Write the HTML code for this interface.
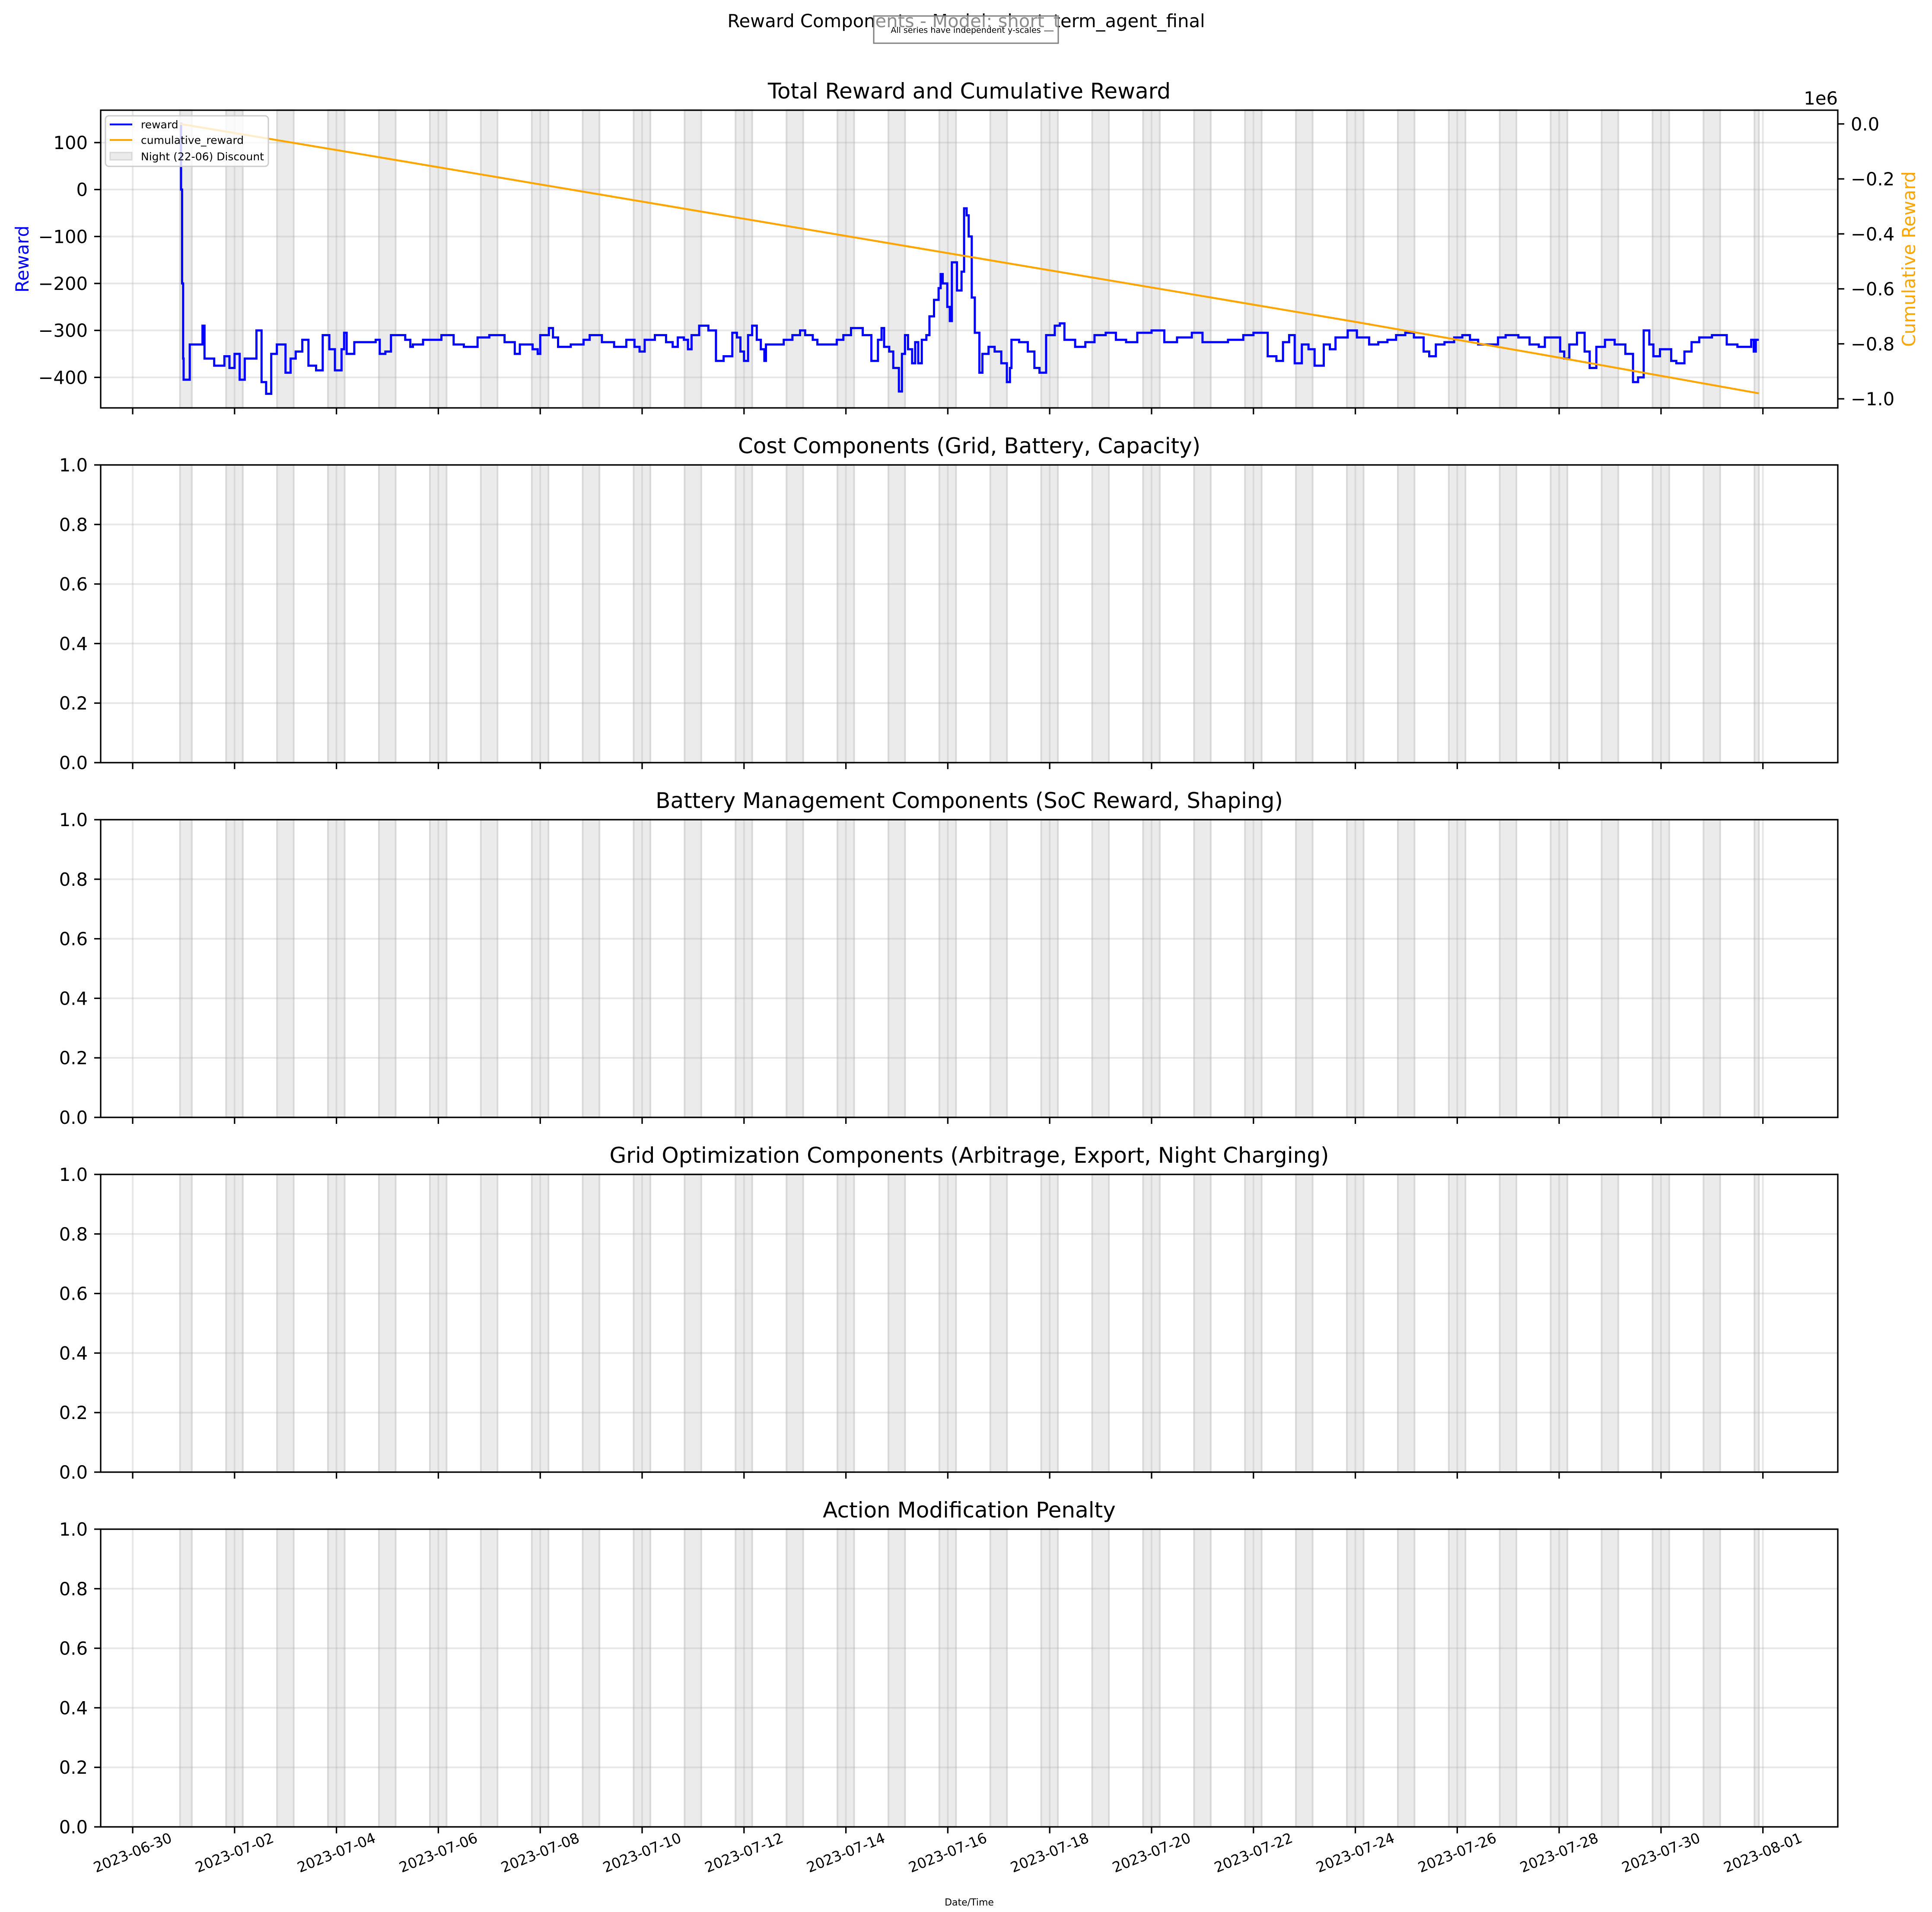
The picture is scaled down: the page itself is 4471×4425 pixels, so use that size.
<!DOCTYPE html>
<html><head><meta charset="utf-8"><title>Reward Components</title>
<style>html,body{margin:0;padding:0;background:#fff}svg{display:block}text{font-family:"DejaVu Sans","Liberation Sans",sans-serif}</style>
</head><body>
<svg id="fig" xmlns="http://www.w3.org/2000/svg" width="4471" height="4425" viewBox="0 0 4471 4425">
<rect width="4471" height="4425" fill="#fff"/>
<text x="2236" y="63" font-size="41.7" text-anchor="middle">Reward Components - Model: short_term_agent_final</text>
<rect x="2022" y="37" width="427" height="63" fill="#fff" fill-opacity="0.55" stroke="#808080" stroke-width="3"/>
<text x="2235" y="76" font-size="19" text-anchor="middle">All series have independent y-scales</text>
<g id="plots"></g>
<text x="2243" y="4410" font-size="22" text-anchor="middle">Date/Time</text>
</svg>
<script>
// ---- data ----
const tickDays = [0,2,4,6,8,10,12,14,16,18,20,22,24,26,28,30,32];
const tickLabels = ["2023-06-30","2023-07-02","2023-07-04","2023-07-06","2023-07-08","2023-07-10","2023-07-12","2023-07-14","2023-07-16","2023-07-18","2023-07-20","2023-07-22","2023-07-24","2023-07-26","2023-07-28","2023-07-30","2023-08-01"];
const rewardTicks = [100,0,-100,-200,-300,-400];
const cumTicks = [0,-0.2,-0.4,-0.6,-0.8,-1.0];
const cumTickLabels = ["0.0","\u22120.2","\u22120.4","\u22120.6","\u22120.8","\u22121.0"];
const unitTicks = [0,0.2,0.4,0.6,0.8,1.0];
const nightDays = [1,2,3,4,5,6,7,8,9,10,11,12,13,14,15,16,17,18,19,20,21,22,23,24,25,26,27,28,29,30,31,32];
const rewardT = [0.93,0.95,0.97,0.99,1.0,1.12,1.37,1.41,1.6,1.8,1.9,2.0,2.1,2.2,2.43,2.53,2.62,2.72,2.83,3.0,3.1,3.2,3.33,3.45,3.6,3.73,3.86,3.97,4.1,4.15,4.2,4.35,4.77,4.85,4.96,5.07,5.35,5.45,5.5,5.7,5.88,6.06,6.3,6.5,6.77,7.0,7.3,7.5,7.6,7.85,7.95,8.0,8.17,8.25,8.35,8.6,8.85,8.97,9.21,9.45,9.69,9.85,9.95,10.05,10.25,10.47,10.6,10.7,10.82,10.9,10.97,11.12,11.3,11.45,11.6,11.77,11.86,11.93,12.0,12.08,12.16,12.25,12.33,12.4,12.43,12.78,12.95,13.1,13.2,13.35,13.44,13.82,13.95,14.1,14.33,14.5,14.63,14.7,14.75,14.85,14.93,15.04,15.1,15.16,15.22,15.3,15.36,15.42,15.49,15.58,15.64,15.73,15.82,15.86,15.9,15.99,16.04,16.08,16.18,16.27,16.32,16.37,16.41,16.47,16.53,16.62,16.68,16.8,16.92,17.05,17.16,17.22,17.25,17.4,17.57,17.7,17.8,17.93,18.1,18.2,18.29,18.5,18.7,18.88,19.1,19.3,19.5,19.72,20.0,20.25,20.5,20.79,21.0,21.2,21.5,21.8,22.0,22.28,22.45,22.58,22.7,22.81,22.95,23.08,23.2,23.38,23.5,23.61,23.85,24.03,24.27,24.45,24.63,24.8,24.98,25.15,25.34,25.45,25.58,25.75,25.94,26.1,26.25,26.41,26.7,26.8,26.95,27.2,27.42,27.6,27.72,28.02,28.1,28.2,28.35,28.5,28.6,28.73,28.9,29.09,29.3,29.45,29.55,29.66,29.77,29.85,29.98,30.2,30.3,30.46,30.6,30.75,31.0,31.29,31.5,31.77,31.82,31.86];
const rewardV = [140,0,-200,-360,-405,-330,-290,-360,-375,-355,-380,-350,-405,-360,-300,-410,-435,-350,-330,-390,-360,-345,-320,-375,-385,-310,-340,-385,-340,-305,-350,-325,-320,-350,-345,-310,-320,-335,-330,-320,-320,-310,-330,-335,-315,-310,-325,-350,-330,-340,-350,-310,-295,-315,-335,-330,-320,-310,-325,-335,-320,-335,-345,-320,-310,-325,-335,-315,-320,-340,-310,-290,-300,-365,-355,-305,-315,-345,-365,-310,-290,-320,-340,-365,-330,-320,-310,-300,-310,-320,-330,-320,-310,-295,-310,-365,-320,-295,-335,-345,-380,-430,-350,-310,-340,-370,-325,-370,-320,-310,-270,-235,-210,-180,-200,-250,-280,-155,-215,-175,-40,-55,-100,-230,-305,-390,-350,-335,-345,-370,-410,-380,-320,-325,-345,-380,-390,-310,-290,-285,-320,-335,-325,-310,-305,-320,-325,-305,-300,-325,-315,-305,-325,-325,-320,-310,-305,-355,-365,-325,-310,-370,-330,-340,-375,-330,-340,-315,-300,-315,-330,-325,-320,-310,-305,-315,-345,-355,-330,-325,-315,-310,-320,-330,-330,-315,-310,-315,-330,-335,-315,-345,-360,-330,-305,-345,-380,-335,-320,-330,-350,-410,-400,-300,-330,-355,-340,-365,-370,-345,-325,-315,-310,-330,-335,-320,-345,-320];
const rewardEnd = 31.92;
const cumT = [0.93,4,8,12,16,20,24,28,31.92];
const cumV = [0,-0.095,-0.22,-0.345,-0.47,-0.595,-0.72,-0.85,-0.98];
const panelTitles = ["Total Reward and Cumulative Reward","Cost Components (Grid, Battery, Capacity)","Battery Management Components (SoC Reward, Shaping)","Grid Optimization Components (Arbitrage, Export, Night Charging)","Action Modification Penalty"];

// ---- layout ----
const NS = "http://www.w3.org/2000/svg";
const L = 233, R = 4253, H = 689;
const tops = [255,1076,1897,2718,3539];
const xMin = -0.628, xMax = 33.47;
const X = d => L + (d - xMin) / (xMax - xMin) * (R - L);
const root = document.getElementById('plots');
function mk(tag, attrs, parent) {
  const e = document.createElementNS(NS, tag);
  for (const k in attrs) e.setAttribute(k, attrs[k]);
  (parent || root).appendChild(e);
  return e;
}

tops.forEach((top, pi) => {
  const bot = top + H;
  const g = mk('g', {});
  
  
  let Y, yt, ylab;
  if (pi === 0) {
    const yMax = 169, yMin = -465;
    Y = v => top + (yMax - v) / (yMax - yMin) * H;
    yt = rewardTicks; ylab = rewardTicks.map(v => v < 0 ? '\u2212' + Math.abs(v) : '' + v);
  } else {
    Y = v => top + (1 - v) * H;
    yt = unitTicks; ylab = unitTicks.map(v => v.toFixed(1));
  }
  nightDays.forEach(d => {
    const s = Math.max(d - 0.165, 0.93), e = Math.min(d + 0.16, rewardEnd);
    if (e <= s) return;
    const r = mk('rect', {x: X(s), y: top, width: X(e) - X(s), height: H, fill: '#ebebeb', stroke: '#d8d8d8', 'stroke-width': 4}, g);
    
    
  });
  tickDays.forEach(d => {
    const ln = mk('line', {x1: X(d), x2: X(d), y1: top, y2: bot, stroke: '#b0b0b0', 'stroke-opacity': 0.3, 'stroke-width': 4}, g);
    
    
  });
  yt.forEach(v => {
    const ln = mk('line', {x1: L, x2: R, y1: Y(v), y2: Y(v), stroke: '#b0b0b0', 'stroke-opacity': 0.3, 'stroke-width': 4}, g);
    
    
  });
  if (pi === 0) {
    const cY = v => top + (0.05 - v) / (0.05 + 1.033) * H;
    let dc = '';
    cumT.forEach((t, i) => { dc += (i ? 'L' : 'M') + X(t).toFixed(1) + ' ' + cY(cumV[i]).toFixed(1); });
    let dr = '';
    rewardT.forEach((t, i) => {
      const t2 = i < rewardT.length - 1 ? rewardT[i + 1] : rewardEnd;
      dr += (i ? 'L' : 'M') + X(t).toFixed(1) + ' ' + Y(rewardV[i]).toFixed(1) + 'L' + X(t2).toFixed(1) + ' ' + Y(rewardV[i]).toFixed(1);
    });
    const pr = mk('path', {d: dr, fill: 'none', stroke: '#0000ff', 'stroke-width': 5, 'stroke-linejoin': 'miter'}, g);
    
    
    const pc = mk('path', {d: dc, fill: 'none', stroke: '#ffa500', 'stroke-width': 4.5}, g);
    
    
    cumTicks.forEach((v, i) => {
      const tk = mk('line', {x1: R, x2: R + 15, y1: cY(v), y2: cY(v), stroke: '#000', 'stroke-width': 3.3}, g);
      
      
      const tx = mk('text', {x: R + 30, y: cY(v) + 15, 'font-size': 41.7}, g);
      tx.textContent = cumTickLabels[i];
      
      
    });
    const off = mk('text', {x: 4253, y: 242, 'font-size': 41.7, 'text-anchor': 'end'}, g);
    off.textContent = '1e6';
    
    
    const yl2 = mk('text', {x: 4432, y: top + H / 2, 'font-size': 41.7, fill: '#ffa500', 'text-anchor': 'middle', transform: 'rotate(-90 4432 ' + (top + H / 2) + ')'}, g);
    yl2.textContent = 'Cumulative Reward';
    
    
    const yl = mk('text', {x: 66, y: top + H / 2, 'font-size': 41.7, fill: '#0000ff', 'text-anchor': 'middle', transform: 'rotate(-90 66 ' + (top + H / 2) + ')'}, g);
    yl.textContent = 'Reward';
    
    
    const lg = mk('g', {}, g);
    
    
    mk('rect', {x: 244, y: 268, width: 377, height: 117, rx: 8, fill: '#fff', 'fill-opacity': 0.8, stroke: '#cccccc', 'stroke-width': 3}, lg);
    const e1 = mk('line', {x1: 254, x2: 306, y1: 288, y2: 288, stroke: '#0000ff', 'stroke-width': 4.2}, lg);
    
    
    const e2 = mk('line', {x1: 254, x2: 306, y1: 324, y2: 324, stroke: '#ffa500', 'stroke-width': 4.2}, lg);
    
    
    const e3 = mk('rect', {x: 255, y: 353, width: 50, height: 17, fill: '#ebebeb', stroke: '#d8d8d8', 'stroke-width': 3}, lg);
    
    
    [['reward', 297], ['cumulative_reward', 333], ['Night (22-06) Discount', 371]].forEach(([s, y]) => {
      const t = mk('text', {x: 326, y: y, 'font-size': 25}, lg);
      t.textContent = s;
      
      
    });
  }
  const fr = mk('rect', {x: L, y: top, width: R - L, height: H, fill: 'none', stroke: '#000', 'stroke-width': 3.3}, g);
  
  
  yt.forEach((v, i) => {
    const tk = mk('line', {x1: L - 15, x2: L, y1: Y(v), y2: Y(v), stroke: '#000', 'stroke-width': 3.3}, g);
    
    
    const tx = mk('text', {x: L - 30, y: Y(v) + 15, 'font-size': 41.7, 'text-anchor': 'end'}, g);
    tx.textContent = ylab[i];
    
    
  });
  tickDays.forEach((d, i) => {
    const tk = mk('line', {x1: X(d), x2: X(d), y1: bot, y2: bot + 15, stroke: '#000', 'stroke-width': 3.3}, g);
    
    
    if (pi === 4) {
      const cx = X(d), cy = bot + 60;
      const tx = mk('text', {x: cx, y: cy + 11, 'font-size': 33, 'text-anchor': 'middle', transform: 'rotate(-22 ' + cx + ' ' + cy + ')'}, g);
      tx.textContent = tickLabels[i];
      
      
    }
  });
  const tt = mk('text', {x: (L + R) / 2, y: top - 27, 'font-size': 50, 'text-anchor': 'middle'}, g);
  tt.textContent = panelTitles[pi];
  
  
});
</script>
</body></html>
